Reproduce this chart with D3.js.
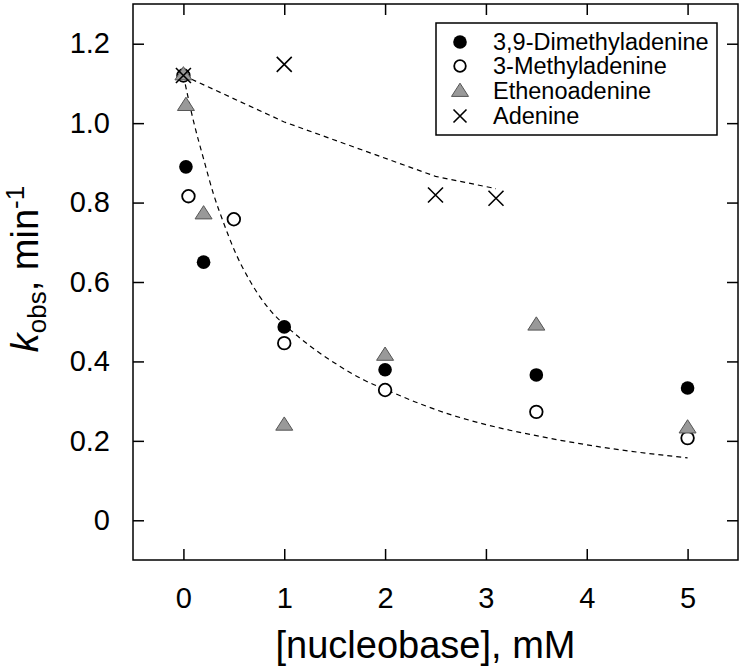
<!DOCTYPE html>
<html>
<head>
<meta charset="utf-8">
<script src="https://cdn.jsdelivr.net/npm/d3@7"></script>
<style>
  html, body { margin: 0; padding: 0; background: #fff; }
  svg { display: block; font-family: "Liberation Sans", Arial, Helvetica, sans-serif; }
</style>
</head>
<body>
<svg id="chart" width="744" height="671"></svg>
<script>
// ---- Data ----
const xTicks = [0, 1, 2, 3, 4, 5];
const yTicks = [0, 0.2, 0.4, 0.6, 0.8, 1.0, 1.2];
const yTickLabels = ["0", "0.2", "0.4", "0.6", "0.8", "1.0", "1.2"];

const seriesNames = ["3,9-Dimethyladenine", "3-Methyladenine", "Ethenoadenine", "Adenine"];

const dimethylX = [0.025, 0.2, 1, 2, 3.5, 5];
const dimethylY = [0.89, 0.65, 0.487, 0.379, 0.366, 0.333];

const methylX = [0, 0.05, 0.5, 1, 2, 3.5, 5];
const methylY = [1.12, 0.816, 0.758, 0.446, 0.328, 0.273, 0.207];

const ethenoX = [0, 0.025, 0.2, 1, 2, 3.5, 5];
const ethenoY = [1.12, 1.043, 0.77, 0.238, 0.414, 0.49, 0.231];

const adenineX = [0, 1, 2.5, 3.1];
const adenineY = [1.12, 1.148, 0.819, 0.811];

// fitted curves
const fitLowX = [0, 0.1, 0.2, 0.3, 0.4, 0.5, 0.65, 0.85, 1.05, 1.25, 1.5, 1.8, 2.0, 2.3, 2.65, 3.0, 3.5, 4.1, 5.0];
const fitLowY = [1.12, 1.005, 0.91, 0.82, 0.748, 0.683, 0.607, 0.532, 0.482, 0.44, 0.396, 0.352, 0.33, 0.298, 0.266, 0.241, 0.213, 0.186, 0.157];
const fitHighX = [0, 1, 2.5, 3.1];
const fitHighY = [1.12, 1.003, 0.866, 0.835];

// ---- Layout ----
const svg = d3.select("#chart");
const L = 133, R = 738, T = 4, B = 560;
const x = d3.scaleLinear().domain([-0.5, 5.5]).range([L, R]);
const y = d3.scaleLinear().domain([-0.1, 1.3]).range([B, T]);

// frame
svg.append("rect").attr("x", L).attr("y", T).attr("width", R - L).attr("height", B - T)
  .attr("fill", "none").attr("stroke", "#000").attr("stroke-width", 1.5);

const tl = 11;
// axes with inward ticks
const axB = svg.append("g").attr("transform", `translate(0,${B})`)
  .call(d3.axisBottom(x).tickValues(xTicks).tickSizeInner(-tl).tickSizeOuter(0).tickPadding(27).tickFormat(d3.format("d")));
const axT = svg.append("g").attr("transform", `translate(0,${T})`)
  .call(d3.axisTop(x).tickValues(xTicks).tickSizeInner(-tl).tickSizeOuter(0).tickFormat(""));
const axL = svg.append("g").attr("transform", `translate(${L},0)`)
  .call(d3.axisLeft(y).tickValues(yTicks).tickSizeInner(-tl).tickSizeOuter(0).tickPadding(23)
    .tickFormat((d, i) => yTickLabels[i]));
const axR = svg.append("g").attr("transform", `translate(${R},0)`)
  .call(d3.axisRight(y).tickValues(yTicks).tickSizeInner(-tl).tickSizeOuter(0).tickFormat(""));
[axB, axT, axL, axR].forEach(a => {
  a.select(".domain").remove();
  a.selectAll(".tick line").attr("stroke", "#000").attr("stroke-width", 1.5);
  a.selectAll("text").attr("font-family", "Liberation Sans, Arial, sans-serif")
    .attr("font-size", 29).attr("fill", "#000");
});
axB.selectAll("text").attr("dy", "0.71em");

// fit lines
const line = d3.line().x(d => x(d[0])).y(d => y(d[1])).curve(d3.curveMonotoneX);
svg.append("path").datum(d3.zip(fitLowX, fitLowY)).attr("d", line)
  .attr("fill", "none").attr("stroke", "#000").attr("stroke-width", 1.2).attr("stroke-dasharray", "5,4");
svg.append("path").datum(d3.zip(fitHighX, fitHighY)).attr("d", d3.line().x(d => x(d[0])).y(d => y(d[1])))
  .attr("fill", "none").attr("stroke", "#000").attr("stroke-width", 1.2).attr("stroke-dasharray", "5,4");

// marker drawers
function filledCircle(g, cx, cy, r) {
  g.append("circle").attr("cx", cx).attr("cy", cy).attr("r", r).attr("fill", "#000");
}
function openCircle(g, cx, cy, r) {
  g.append("circle").attr("cx", cx).attr("cy", cy).attr("r", r).attr("fill", "#fff")
    .attr("stroke", "#000").attr("stroke-width", 1.8);
}
function triangle(g, cx, cy, w) {
  const h = w * 0.78;
  const pts = [[cx, cy - 2 * h / 3], [cx - w / 2, cy + h / 3], [cx + w / 2, cy + h / 3]];
  g.append("polygon").attr("points", pts.map(p => p.join(",")).join(" "))
    .attr("fill", "#999").attr("stroke", "#555").attr("stroke-width", 1);
}
function cross(g, cx, cy, s) {
  const h = s / 2;
  g.append("path").attr("d", `M${cx - h},${cy - h}L${cx + h},${cy + h}M${cx - h},${cy + h}L${cx + h},${cy - h}`)
    .attr("stroke", "#000").attr("stroke-width", 1.6).attr("fill", "none");
}

const gm = svg.append("g");
d3.zip(dimethylX, dimethylY).forEach(d => filledCircle(gm, x(d[0]), y(d[1]), 6.8));
d3.zip(methylX, methylY).forEach(d => openCircle(gm, x(d[0]), y(d[1]), 6.3));
d3.zip(ethenoX, ethenoY).forEach(d => triangle(gm, x(d[0]), y(d[1]), 17));
d3.zip(adenineX, adenineY).forEach(d => cross(gm, x(d[0]), y(d[1]), 15));

// legend
const lg = svg.append("g");
lg.append("rect").attr("x", 436).attr("y", 23).attr("width", 281).attr("height", 112)
  .attr("fill", "#fff").attr("stroke", "#000").attr("stroke-width", 1.5);
const legY = [42, 66, 91, 116];
const legX = 460;
filledCircle(lg, legX, legY[0], 6.8);
openCircle(lg, legX, legY[1], 5.8);
triangle(lg, legX, legY[2] + 1, 17);
cross(lg, legX, legY[3], 13);
seriesNames.forEach((n, i) => {
  lg.append("text").attr("x", 493).attr("y", legY[i]).attr("dy", "0.36em")
    .attr("font-size", 23.5).attr("fill", "#000").text(n);
});

// axis titles
svg.append("text").attr("x", (L + R) / 2 - 10).attr("y", 658).attr("text-anchor", "middle")
  .attr("font-size", 38).attr("fill", "#000").text("[nucleobase], mM");

const yt = svg.append("text").attr("transform", "translate(38,269) rotate(-90)")
  .attr("text-anchor", "middle").attr("font-size", 38).attr("fill", "#000");
yt.append("tspan").attr("font-style", "italic").text("k");
yt.append("tspan").attr("font-size", 26).attr("dy", 8).text("obs");
yt.append("tspan").attr("dy", -8).text(", min");
yt.append("tspan").attr("font-size", 26).attr("dy", -14).text("-1");
</script>
</body>
</html>
